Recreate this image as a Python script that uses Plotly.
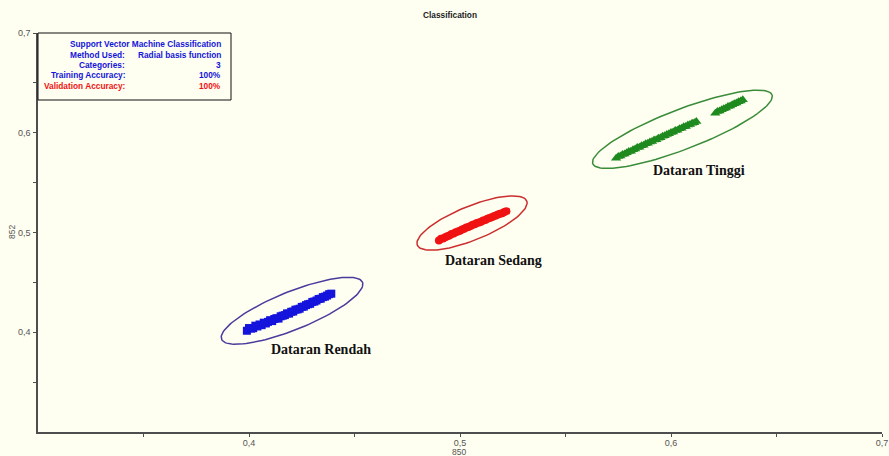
import numpy as np
import plotly.graph_objects as go

# ---- data -------------------------------------------------------------
rendah_x = [0.399, 0.400, 0.401, 0.402, 0.403, 0.404, 0.405, 0.406, 0.407, 0.408,
            0.409, 0.410, 0.411, 0.412, 0.413, 0.414, 0.415, 0.416, 0.417, 0.418,
            0.419, 0.420, 0.421, 0.422, 0.423, 0.424, 0.425, 0.426, 0.427, 0.428,
            0.429, 0.430, 0.431, 0.432, 0.433, 0.434, 0.435, 0.436, 0.437, 0.438, 0.439]
rendah_y = [0.4015, 0.4042, 0.4036, 0.4041, 0.4066, 0.4058, 0.4078, 0.4071, 0.4096, 0.4088,
            0.4104, 0.4121, 0.4112, 0.4133, 0.4141, 0.4137, 0.4160, 0.4166, 0.4172, 0.4189,
            0.4187, 0.4205, 0.4208, 0.4226, 0.4229, 0.4236, 0.4254, 0.4257, 0.4272, 0.4281,
            0.4285, 0.4304, 0.4308, 0.4318, 0.4333, 0.4336, 0.4352, 0.4357, 0.4368, 0.4382, 0.4387]

sedang_x = [0.490, 0.491, 0.492, 0.493, 0.494, 0.495, 0.496, 0.497, 0.498, 0.499,
            0.500, 0.501, 0.502, 0.503, 0.504, 0.505, 0.506, 0.507, 0.508, 0.509,
            0.510, 0.511, 0.512, 0.513, 0.514, 0.515, 0.516, 0.517, 0.518, 0.519,
            0.520, 0.521, 0.522]
sedang_y = [0.4920, 0.4937, 0.4941, 0.4952, 0.4963, 0.4970, 0.4984, 0.4990, 0.5003, 0.5011,
            0.5018, 0.5031, 0.5037, 0.5049, 0.5056, 0.5064, 0.5077, 0.5082, 0.5094, 0.5101,
            0.5108, 0.5121, 0.5126, 0.5137, 0.5145, 0.5152, 0.5164, 0.5170, 0.5180, 0.5189,
            0.5194, 0.5206, 0.5214]

tinggi_x = [0.574, 0.575, 0.576, 0.577, 0.578, 0.579, 0.580, 0.581, 0.582, 0.583,
            0.584, 0.585, 0.586, 0.587, 0.588, 0.589, 0.590, 0.591, 0.592, 0.593,
            0.594, 0.595, 0.596, 0.597, 0.598, 0.599, 0.600, 0.601, 0.602, 0.603,
            0.604, 0.605, 0.606, 0.607, 0.608, 0.609, 0.610, 0.611, 0.612,
            0.621, 0.622, 0.623, 0.624, 0.625, 0.626, 0.627, 0.628, 0.629, 0.630,
            0.631, 0.632, 0.633, 0.634]
tinggi_y = [0.5745, 0.5762, 0.5766, 0.5781, 0.5786, 0.5799, 0.5811, 0.5815, 0.5830, 0.5836,
            0.5851, 0.5855, 0.5869, 0.5874, 0.5889, 0.5894, 0.5908, 0.5912, 0.5928, 0.5931,
            0.5946, 0.5950, 0.5966, 0.5969, 0.5983, 0.5989, 0.6003, 0.6007, 0.6022, 0.6026,
            0.6041, 0.6045, 0.6059, 0.6063, 0.6078, 0.6083, 0.6096, 0.6101, 0.6112,
            0.6196, 0.6212, 0.6218, 0.6231, 0.6240, 0.6249, 0.6262, 0.6268, 0.6281, 0.6290,
            0.6298, 0.6311, 0.6318, 0.6330]

tick_vals = [0.4, 0.5, 0.6, 0.7]
tick_text = ["0,4", "0,5", "0,6", "0,7"]
minor_vals = [0.35, 0.45, 0.55, 0.65]

info_labels = ["Method Used:", "Categories:", "Training Accuracy:", "Validation Accuracy:"]
info_values = ["Radial basis function", "3", "100%", "100%"]

# ---- layout geometry ---------------------------------------------------
W, H = 889, 456
M = dict(l=38, r=7, t=33, b=24)
X_RANGE = [0.3, 0.7]
Y_RANGE = [0.3, 0.7]
PW = W - M["l"] - M["r"]
PH = H - M["t"] - M["b"]
px_per_x = PW / (X_RANGE[1] - X_RANGE[0])
px_per_y = PH / (Y_RANGE[1] - Y_RANGE[0])

BG = "#fefef1"
BLUE = "#1414dc"
RED = "#f01212"
GREEN = "#1f8a1f"
AXIS = "#4e4e4e"
SANS = "Liberation Sans, Arial, sans-serif"


def ellipse(cx, cy, a_px, b_px, angle_deg, n=120):
    """Closed outline of a rotated ellipse (semi-axes in screen pixels)."""
    t = np.linspace(0, 2 * np.pi, n)
    th = np.radians(angle_deg)
    ex = a_px * np.cos(t)
    ey = b_px * np.sin(t)
    dx = ex * np.cos(th) - ey * np.sin(th)
    dy = ex * np.sin(th) + ey * np.cos(th)
    return cx + dx / px_per_x, cy + dy / px_per_y


def xpaper(px):
    return (px - M["l"]) / PW


def ypaper(py):
    return (H - M["b"] - py) / PH


fig = go.Figure()

fig.add_trace(go.Scatter(x=rendah_x, y=rendah_y, mode="markers",
                         marker=dict(symbol="square", size=8, color=BLUE, line=dict(width=0)),
                         name="Dataran Rendah"))
fig.add_trace(go.Scatter(x=sedang_x, y=sedang_y, mode="markers",
                         marker=dict(symbol="circle", size=8, color=RED, line=dict(width=0)),
                         name="Dataran Sedang"))
fig.add_trace(go.Scatter(x=tinggi_x, y=tinggi_y, mode="markers",
                         marker=dict(symbol="triangle-up", size=9, color=GREEN, line=dict(width=0)),
                         name="Dataran Tinggi"))

# outlines around each class
for (cx, cy, a, b, ang, col) in [
    (0.4204, 0.4215, 76, 19, 22, "#4a3c9c"),
    (0.5057, 0.5095, 59, 17, 22, "#cc2d2d"),
    (0.6054, 0.6035, 96, 20, 21, "#3a8c3a"),
]:
    ex, ey = ellipse(cx, cy, a, b, ang)
    fig.add_trace(go.Scatter(x=ex, y=ey, mode="lines", line=dict(color=col, width=1.5),
                             hoverinfo="skip", showlegend=False))

# class labels
for (lx, ly, txt) in [(0.4341, 0.383, "Dataran Rendah"),
                      (0.5159, 0.472, "Dataran Sedang"),
                      (0.6133, 0.562, "Dataran Tinggi")]:
    fig.add_annotation(x=lx, y=ly, text=txt, showarrow=False,
                       font=dict(family="Liberation Serif, Times New Roman, serif",
                                 size=14, color="#111111", weight="bold"))

axis_common = dict(showgrid=False, zeroline=False, showline=True,
                   linecolor=AXIS, linewidth=1.5, ticks="outside", ticklen=3,
                   tickcolor=AXIS, tickwidth=1, tickvals=tick_vals, ticktext=tick_text,
                   tickfont=dict(family=SANS, size=9, color="#555555"),
                   minor=dict(tickvals=minor_vals, ticks="outside",
                              ticklen=3, tickcolor=AXIS),
                   mirror=False, automargin=False, fixedrange=True)

fig.update_xaxes(**axis_common, range=X_RANGE, ticklabelstandoff=-2)
fig.update_yaxes(**axis_common, range=Y_RANGE, ticklabelstandoff=1)

# info panel
fig.add_shape(type="rect", xref="paper", yref="paper", x0=0, x1=xpaper(231),
              y0=ypaper(100), y1=1, line=dict(color="#111111", width=1), fillcolor=BG)

info_font = dict(family=SANS, size=8.3, weight="bold")
col_val = xpaper(223)
col_lab = xpaper(127)
row_px = [44, 55, 65, 75, 86]

fig.add_annotation(xref="paper", yref="paper", x=col_val, y=ypaper(row_px[0]),
                   text="Support Vector Machine Classification", showarrow=False,
                   xanchor="right", yanchor="middle", font=dict(**info_font, color=BLUE))
for i, (lab, val) in enumerate(zip(info_labels, info_values)):
    col = RED if lab.startswith("Validation") else BLUE
    yy = ypaper(row_px[i + 1])
    fig.add_annotation(xref="paper", yref="paper", x=col_lab, y=yy, text=lab,
                       showarrow=False, xanchor="right", yanchor="middle",
                       font=dict(**info_font, color=col))
    fig.add_annotation(xref="paper", yref="paper", x=col_val, y=yy, text=val,
                       showarrow=False, xanchor="right", yanchor="middle",
                       font=dict(**info_font, color=col))

# title and axis titles
fig.add_annotation(xref="paper", yref="paper", x=xpaper(450), y=ypaper(15),
                   text="Classification", showarrow=False,
                   xanchor="center", yanchor="middle",
                   font=dict(family=SANS, size=8.3, color="#222222", weight="bold"))
fig.add_annotation(xref="paper", yref="paper", x=xpaper(459), y=ypaper(451.5),
                   text="850", showarrow=False, xanchor="center", yanchor="middle",
                   font=dict(family=SANS, size=8.5, color="#555555"))
fig.add_annotation(xref="paper", yref="paper", x=xpaper(12), y=ypaper(232),
                   text="852", showarrow=False, textangle=-90,
                   xanchor="center", yanchor="middle",
                   font=dict(family=SANS, size=8.5, color="#555555"))

fig.update_layout(width=W, height=H, margin=M, paper_bgcolor=BG, plot_bgcolor=BG,
                  showlegend=False)

fig.write_html("out.html")
